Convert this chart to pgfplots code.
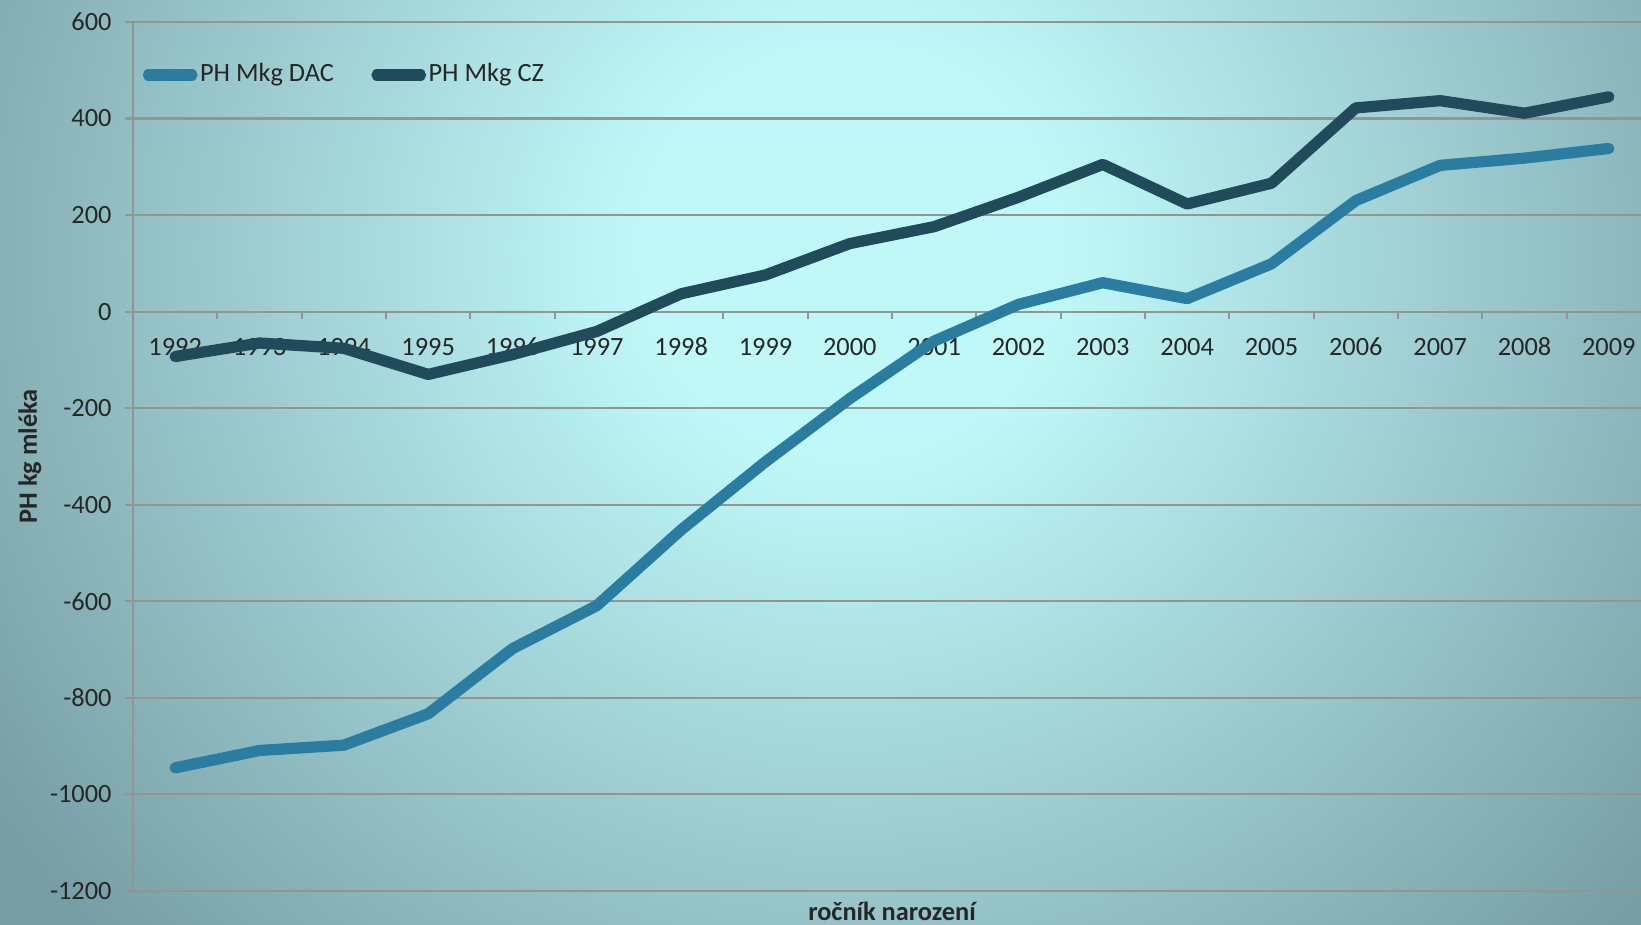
\documentclass[border=0pt]{standalone}
\usepackage{pgfplots}
\usepackage{pgfplotstable}
\pgfplotsset{compat=1.18}
\usepackage{fontspec}
\setmainfont{Carlito}

\definecolor{dacblue}{RGB}{42,125,161}
\definecolor{czdark}{RGB}{33,74,90}
\definecolor{gridgray}{RGB}{150,147,147}
\definecolor{bginner}{RGB}{192,248,248}
\definecolor{bgouter}{RGB}{118,156,164}
\pgfdeclareradialshading{chartbg}{\pgfpoint{0bp}{0bp}}{color(0bp)=(bginner); color(5bp)=(bginner); color(25bp)=(bgouter); color(50bp)=(bgouter)}

% index 0 = 1992 ... 17 = 2009
\pgfplotstableread{
idx DAC CZ
0  -945  -93
1  -909  -65
2  -898  -76
3  -833  -130
4  -698  -89
5  -609  -41
6  -452  37
7  -311  76
8  -180  141
9  -61   176
10 15    237
11 60    305
12 27    223
13 99    266
14 230   422
15 303   437
16 318   411
17 338   445
}\chartdata

\begin{document}
\begin{tikzpicture}
\begin{scope}
  \clip (-1.33cm,-0.34cm) rectangle (15.08cm,8.91cm);
  \fill[bgouter] (-1.33cm,-0.34cm) rectangle (15.08cm,8.91cm);
  \shade[shading=chartbg] (7.17cm,6.41cm) ellipse (10.4cm and 10.2cm);
\end{scope}
\begin{axis}[
  scale only axis,
  width=15.18cm, height=8.69cm,
  xmin=-0.5, xmax=17.5, ymin=-1200, ymax=600,
  axis x line=middle, axis y line=left,
  axis line style={draw=gridgray, line width=0.6pt, -},
  hide obscured x ticks=false, hide obscured y ticks=false,
  xtick={-0.5,0.5,...,17.5},
  x tick label as interval,
  xticklabels={1992,1993,1994,1995,1996,1997,1998,1999,2000,2001,2002,2003,2004,2005,2006,2007,2008,2009},
  ytick={-1200,-1000,...,600},
  yticklabels={-1200,-1000,-800,-600,-400,-200,0,200,400,600},
  tick align=outside,
  major tick length=0.75mm,
  tick style={draw=gridgray, line width=0.6pt},
  ymajorgrids,
  grid style={draw=gridgray, line width=0.6pt},
  every tick label/.append style={font=\fontsize{7.5}{9}\selectfont, text=black!85},
  xticklabel style={yshift=-0.7mm, text height=1.7mm, text depth=0pt},
  yticklabel style={xshift=-0.15mm},
  xlabel={ročník narození},
  ylabel={PH kg mléka},
  label style={font=\fontsize{7.5}{9}\selectfont\bfseries, text=black!85},
  xlabel style={at={(axis description cs:0.5,0)}, anchor=center, yshift=-2mm},
  ylabel style={at={(axis description cs:-0.068,0.5)}, anchor=center},
  legend columns=2,
  legend style={at={(0.006,0.939)}, anchor=west, draw=none, fill=none,
    inner sep=0pt, font=\fontsize{7.5}{9}\selectfont, text=black!85,
    nodes={inner sep=0.25mm},
    /tikz/every even column/.append style={column sep=3.5mm}},
  legend image code/.code={\draw[#1, line cap=round] (0.55mm,0mm) -- (4.9mm,0mm);},
  every axis plot/.append style={line width=3.2pt, line join=round, line cap=round},
]
\addplot[color=dacblue] table[x=idx, y=DAC] {\chartdata};
\addlegendentry{PH Mkg DAC}
\addplot[color=czdark] table[x=idx, y=CZ] {\chartdata};
\addlegendentry{PH Mkg CZ}
\end{axis}
\pgfresetboundingbox
\path[use as bounding box] (-1.33cm,-0.34cm) rectangle (15.08cm,8.91cm);
\end{tikzpicture}
\end{document}
